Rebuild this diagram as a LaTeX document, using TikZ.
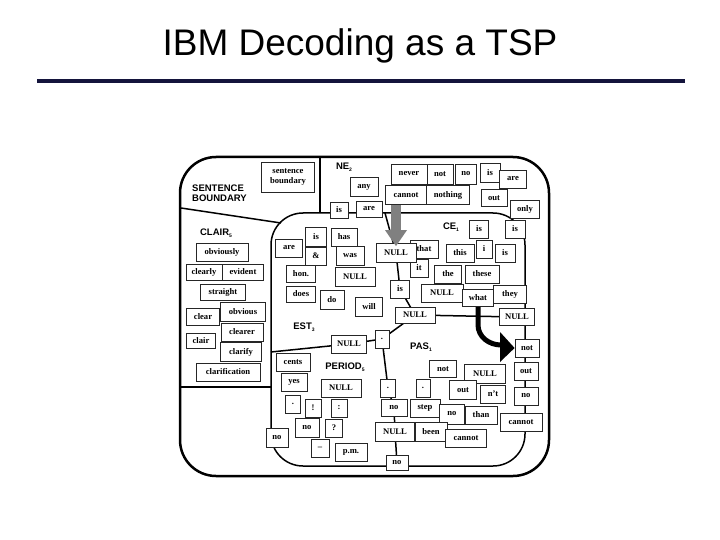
\documentclass[tikz,border=0pt]{standalone}
\usepackage{fontspec}
\setmainfont{Liberation Serif}
\newfontfamily\arialf{Liberation Sans}
\usetikzlibrary{backgrounds}
\tikzset{
  bx/.style={draw=black!85,line width=0.8pt,fill=white,inner sep=0pt,minimum height=18pt,font=\bfseries\fontsize{8.6}{10}\selectfont},
  bd/.style={line width=1.5pt,black},
  lbl/.style={font=\arialf\bfseries\fontsize{9.5}{10}\selectfont,inner sep=0pt},
}
\newcommand{\sbs}[1]{\raisebox{-2pt}{\fontsize{5}{5}\selectfont #1}}
\begin{document}
\begin{tikzpicture}[x=1pt,y=-1pt]
\useasboundingbox (0,0) rectangle (720,540);
\node[font=\arialf\fontsize{37}{40}\selectfont,inner sep=0pt] (title) at (360,46) {IBM Decoding as a TSP};
\draw[line width=4pt,color={rgb,255:red,20;green,20;blue,60}] (37,81) -- (685,81);
% frame
\draw[line width=2.5pt,rounded corners=36] (180,157) rectangle (549,476);
\draw[bd,rounded corners=32] (271,213) rectangle (525,466);
\coordinate (sbA) at (181,208); \coordinate (sbB) at (281,223);
\draw[bd] (sbA) -- (sbB);
\coordinate (vA) at (320,158); \coordinate (vB) at (320,213);
\draw[bd] (vA) -- (vB);
\coordinate (cA) at (181,387); \coordinate (cB) at (271,387);
\draw[bd] (cA) -- (cB);
% labels
\node[lbl,align=left,anchor=west] (sbl) at (192,193) {SENTENCE\\BOUNDARY};
\node[lbl] (nel) at (344,167) {NE\sbs{2}};
\node[lbl] (clairl) at (216,233) {CLAIR\sbs{5}};
\node[lbl] (estl) at (304,327) {EST\sbs{3}};
\node[lbl] (perl) at (345,367) {PERIOD\sbs{5}};
\node[lbl] (cel) at (451,227) {CE\sbs{1}};
\node[lbl] (pasl) at (421,347) {PAS\sbs{1}};
% top region
\node[bx,minimum width=53,minimum height=30,align=center] (sb) at (288,177) {sentence\\boundary};
\node[bx,minimum width=36,minimum height=20] (never) at (409,174) {never};
\node[bx,minimum width=26,minimum height=20] (not1) at (440,174) {not};
\node[bx,minimum width=21,minimum height=20] (no1) at (466,174) {no};
\node[bx,minimum width=20,minimum height=19] (is1) at (490,173) {is};
\node[bx,minimum width=27] (are1) at (513,179) {are};
\node[bx,minimum width=28,minimum height=19] (any) at (364,187) {any};
\node[bx,minimum width=41,minimum height=19] (cannot1) at (406,195) {cannot};
\node[bx,minimum width=43,minimum height=19] (nothing) at (448,195) {nothing};
\node[bx,minimum width=26,minimum height=17] (out1) at (494,198) {out};
\node[bx,minimum width=29] (only) at (525,209) {only};
\node[bx,minimum width=18,minimum height=16] (is2) at (339,210) {is};
\node[bx,minimum width=26,minimum height=16] (are2) at (369,209) {are};
% clair
\node[bx,minimum width=52] (obviously) at (222,252) {obviously};
\node[bx,minimum width=36,minimum height=16] (clearly) at (204,272) {clearly};
\node[bx,minimum width=41,minimum height=16] (evident) at (243,272) {evident};
\node[bx,minimum width=45,minimum height=16] (straight) at (223,292) {straight};
\node[bx,minimum width=33,minimum height=17] (clear) at (203,317) {clear};
\node[bx,minimum width=45,minimum height=19] (obvious) at (243,312) {obvious};
\node[bx,minimum width=42] (clearer) at (242,332) {clearer};
\node[bx,minimum width=29,minimum height=15] (clair) at (201,341) {clair};
\node[bx,minimum width=41,minimum height=19] (clarify) at (241,352) {clarify};
\node[bx,minimum width=64] (clarification) at (228,372) {clarification};
% EST
\node[bx,minimum width=21,minimum height=19] (is3) at (316,237) {is};
\node[bx,minimum width=26] (has) at (344,237) {has};
\node[bx,minimum width=27] (are3) at (289,248) {are};
\node[bx,minimum width=21] (amp) at (316,256) {\&};
\node[bx,minimum width=28,minimum height=19] (was) at (350,256) {was};
\node[bx,minimum width=29,minimum height=17] (hon) at (301,274) {hon.};
\node[bx,minimum width=40,minimum height=19] (nullE) at (355,277) {NULL};
\node[bx,minimum width=29,minimum height=16] (does) at (301,294) {does};
\node[bx,minimum width=24,minimum height=19] (do) at (332,300) {do};
\node[bx,minimum width=27,minimum height=19] (will) at (369,307) {will};
% CE
\node[bx,minimum width=19] (is4) at (479,229) {is};
\node[bx,minimum width=20] (is5) at (515,229) {is};
\node[bx,minimum width=28] (that) at (424,249) {that};
\node[bx,minimum width=28] (this) at (460,253) {this};
\node[bx,minimum width=16] (ii) at (484,249) {i};
\node[bx,minimum width=20] (is6) at (505,253) {is};
\node[bx,minimum width=18] (it) at (419,268) {it};
\node[bx,minimum width=27] (the) at (448,274) {the};
\node[bx,minimum width=34] (these) at (482,274) {these};
\node[bx,minimum width=42] (nullCE) at (442,293) {NULL};
\node[bx,minimum width=33] (they) at (510,294) {they};
\node[bx,minimum width=31,minimum height=17] (what) at (478,298) {what};
\node[bx,minimum width=40,minimum height=19] (nullT) at (396,253) {NULL};
\node[bx,minimum width=19] (isC) at (400,289) {is};
\node[bx,minimum width=40,minimum height=16] (nullC) at (415,315) {NULL};
\node[bx,minimum width=35,minimum height=17] (nullR) at (517,317) {NULL};
% PERIOD
\node[bx,minimum width=35] (nullL) at (349,344) {NULL};
\node[bx,minimum width=14] (dot1) at (382,339) {.};
\node[bx,minimum width=34] (cents) at (293,362) {cents};
\node[bx,minimum width=26] (yes) at (294,382) {yes};
\node[bx,minimum width=40] (nullP) at (341,388) {NULL};
\node[bx,minimum width=15] (dotP) at (293,404) {.};
\node[bx,minimum width=16] (excl) at (313,408) {!};
\node[bx,minimum width=16] (colon) at (339,408) {:};
\node[bx,minimum width=24,minimum height=19] (no2) at (307,428) {no};
\node[bx,minimum width=17] (qm) at (334,428) {?};
\node[bx,minimum width=22,minimum height=19] (no3) at (277,438) {no};
\node[bx,minimum width=18] (dash) at (320,448) {--};
\node[bx,minimum width=32] (pm) at (351,452) {p.m.};
% PAS
\node[bx,minimum width=15] (dot2) at (388,388) {.};
\node[bx,minimum width=14] (dot3) at (423,388) {.};
\node[bx,minimum width=27,minimum height=17] (not2) at (443,369) {not};
\node[bx,minimum width=41,minimum height=19] (nullM) at (485,374) {NULL};
\node[bx,minimum width=27,minimum height=19] (out2) at (463,390) {out};
\node[bx,minimum width=25] (nt) at (493,394) {n't};
\node[bx,minimum width=26,minimum height=17] (no4) at (394,408) {no};
\node[bx,minimum width=30] (step) at (425,408) {step};
\node[bx,minimum width=25,minimum height=20] (no5) at (452,414) {no};
\node[bx,minimum width=32] (than) at (481,415) {than};
\node[bx,minimum width=39,minimum height=19] (nullB) at (395,432) {NULL};
\node[bx,minimum width=32,minimum height=19] (been) at (431,432) {been};
\node[bx,minimum width=41] (cannot2) at (466,438) {cannot};
\node[bx,minimum width=22,minimum height=15] (no6) at (397,463) {no};
\node[bx,minimum width=24] (not3) at (527,348) {not};
\node[bx,minimum width=24] (out3) at (526,371) {out};
\node[bx,minimum width=24] (no7) at (526,396) {no};
\node[bx,minimum width=42] (cannot3) at (521,422) {cannot};
% region boundary lines behind
\coordinate (ceTop) at (385,213);
\coordinate (estEnd) at (271,352);
\coordinate (pasBot) at (398,466);
\begin{scope}[on background layer]
\draw[bd] (ceTop) -- (nullT.center) -- (isC.center) -- (nullC.center) -- (nullR.center);
\draw[bd] (nullC.center) -- (dot1.center) -- (nullL.center) -- (estEnd);
\draw[bd] (dot1.center) -- (dot2.center) -- (no4.center) -- (nullB.center) -- (no6.center) -- (pasBot);
\end{scope}
% arrows
\coordinate (gTop) at (nullT.north |- cannot1.south);
\fill[gray] ([xshift=-5pt]gTop) rectangle ([xshift=5pt,yshift=13pt]nullT.north);
\fill[gray] ([xshift=-11pt,yshift=13pt]nullT.north) -- ([xshift=11pt,yshift=13pt]nullT.north) -- ([yshift=-3pt]nullT.north) -- cycle;
\draw[line width=5pt] (what.south) -- ++(0,18) to[out=-90,in=180] (501,345);
\fill[black] (500,332) -- (500,362) -- (not3.west) -- cycle;
\end{tikzpicture}
\end{document}
